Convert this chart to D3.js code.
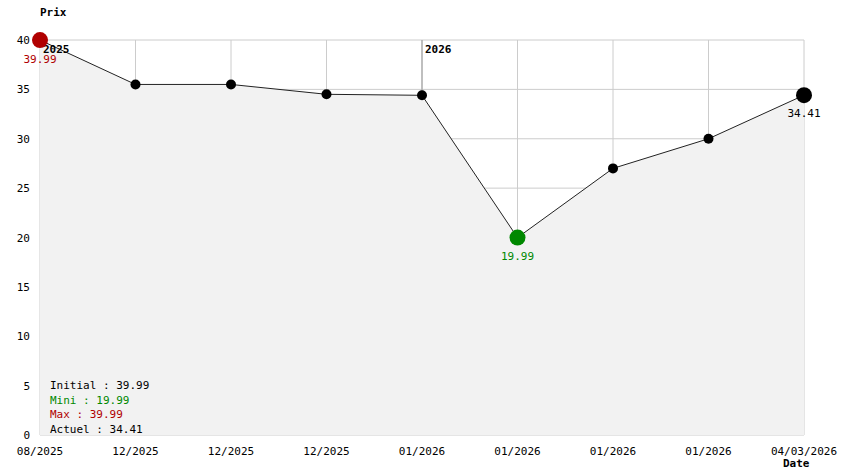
<!DOCTYPE html><html><head><meta charset="utf-8">
<script src="https://cdn.jsdelivr.net/npm/d3@7"></script>
<style>body{margin:0;background:#fff}text{font-family:"DejaVu Sans Mono",monospace;font-size:11px}</style></head><body>
<svg id="c" width="844" height="474"></svg>
<script>
const dates=["08/2025","12/2025","12/2025","12/2025","01/2026","01/2026","01/2026","01/2026","04/03/2026"];
const prices=[39.99,35.5,35.5,34.5,34.4,19.99,27,30,34.41];
const yTicks=[0,5,10,15,20,25,30,35,40];
const years=[{label:"2025",i:0},{label:"2026",i:4}];
const svg=d3.select("#c");
const x=d3.scaleLinear().domain([0,dates.length-1]).range([40,804]);
const y=d3.scaleLinear().domain([0,40]).range([435,40]);
const g=svg.append("g");
yTicks.forEach(t=>g.append("line").attr("x1",40).attr("x2",804).attr("y1",y(t)).attr("y2",y(t)).attr("stroke","#ccc"));
dates.forEach((d,i)=>g.append("line").attr("x1",x(i)).attr("x2",x(i)).attr("y1",40).attr("y2",435).attr("stroke","#ccc"));
svg.append("line").attr("x1",x(4)).attr("x2",x(4)).attr("y1",40).attr("y2",435).attr("stroke","#999");
svg.append("path").datum(prices).attr("fill","#f2f2f2").attr("d",d3.area().x((d,i)=>x(i)).y0(435).y1(d=>y(d)));
svg.append("path").datum(prices).attr("fill","none").attr("stroke","#222").attr("d",d3.line().x((d,i)=>x(i)).y(d=>y(d)));
years.forEach(o=>svg.append("text").attr("x",x(o.i)+3).attr("y",53).attr("font-weight","bold").text(o.label));
yTicks.forEach(t=>svg.append("text").attr("x",30).attr("y",y(t)+4).attr("text-anchor","end").text(t));
dates.forEach((d,i)=>svg.append("text").attr("x",x(i)).attr("y",455).attr("text-anchor","middle").text(d));
svg.append("text").attr("x",40).attr("y",16).attr("font-weight","bold").text("Prix");
svg.append("text").attr("x",783).attr("y",467).attr("font-weight","bold").text("Date");
const mn=d3.min(prices),mx=d3.max(prices),last=prices.length-1;
prices.forEach((p,i)=>{let c="#000",r=5;
 if(i===0){c="#b00000";r=8}else if(p===mn){c="#008800";r=8}else if(i===last){r=8}
 svg.append("circle").attr("cx",x(i)).attr("cy",y(p)).attr("r",r).attr("fill",c);});
const lab=(i,c,dy)=>svg.append("text").attr("x",x(i)).attr("y",y(prices[i])+dy).attr("text-anchor","middle").attr("fill",c).text(prices[i].toFixed(2));
lab(0,"#b00000",23);lab(prices.indexOf(mn),"#008800",22);lab(last,"#000",22);
const leg=[["Initial : "+prices[0].toFixed(2),"#000"],["Mini : "+mn.toFixed(2),"#008800"],["Max : "+mx.toFixed(2),"#b00000"],["Actuel : "+prices[last].toFixed(2),"#000"]];
leg.forEach((l,k)=>svg.append("text").attr("x",50).attr("y",389+k*14.5).attr("fill",l[1]).text(l[0]));
</script></body></html>
